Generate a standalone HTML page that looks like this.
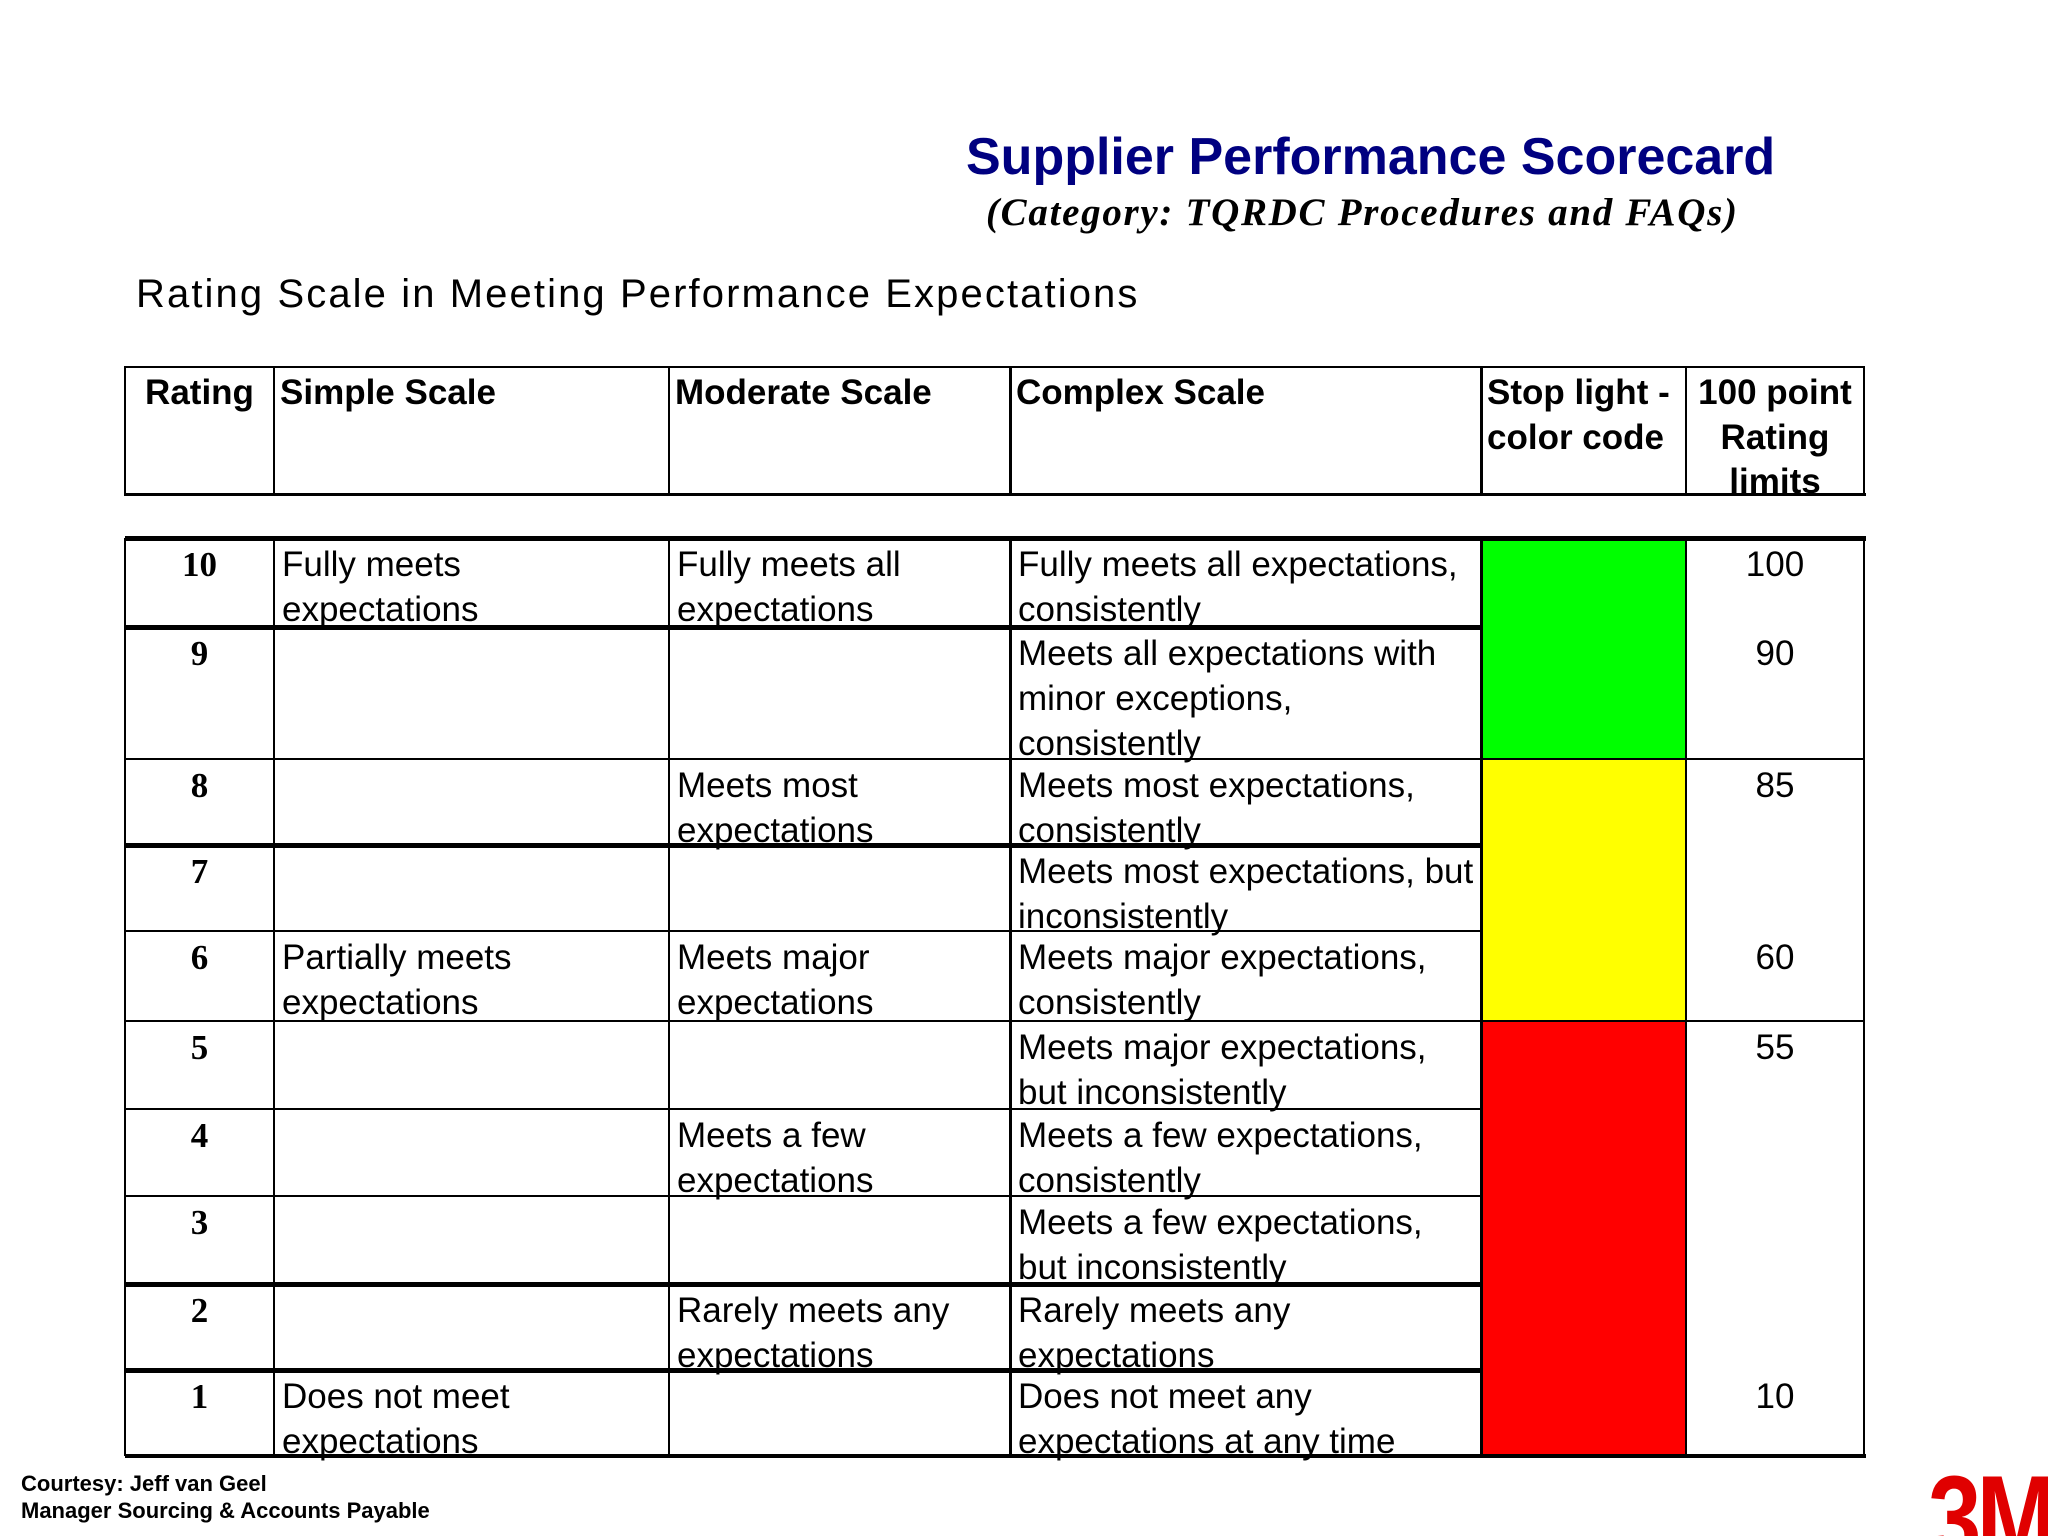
<!DOCTYPE html>
<html><head><meta charset="utf-8">
<style>
html,body{margin:0;padding:0;background:#fff;}
#page{position:relative;width:2048px;height:1536px;overflow:hidden;background:#fff;font-family:"Liberation Sans",Arial,sans-serif;color:#000;}
.abs{position:absolute;}
.ln{position:absolute;background:#000;}
.cell{position:absolute;font-size:35px;line-height:45px;white-space:nowrap;}
.hdr{position:absolute;font-size:35px;line-height:44.5px;font-weight:bold;white-space:nowrap;}
</style></head>
<body>
<div id="page">
  <div class="abs" style="left:966px;top:124px;font-size:52px;font-weight:bold;color:#000080;line-height:66px;white-space:nowrap;">Supplier Performance Scorecard</div>
  <div class="abs" style="left:986px;top:188px;font-family:'Liberation Serif',serif;font-style:italic;font-weight:bold;font-size:39px;letter-spacing:1.7px;line-height:50px;white-space:nowrap;">(Category: TQRDC Procedures and FAQs)</div>
  <div class="abs" style="left:136px;top:268px;font-size:40px;letter-spacing:2.1px;line-height:52px;white-space:nowrap;">Rating Scale in Meeting Performance Expectations</div>
  <div class="abs" style="left:21px;top:1470px;font-size:22px;font-weight:bold;line-height:27px;">Courtesy: Jeff van Geel<br>Manager Sourcing &amp; Accounts Payable</div>
  <div class="abs" style="left:1928px;top:1458px;font-size:120px;font-weight:bold;color:#e00000;line-height:120px;letter-spacing:-6px;transform:scaleX(0.8);transform-origin:left;">3M</div>
</div>
<script>
const page=document.getElementById('page');
const colX=[125,274,669,1010,1481,1686,1864];
const rowY=[538,627,759,845,931,1021,1109,1196,1284,1370,1456];
const ratings=['10','9','8','7','6','5','4','3','2','1'];
const simple=['Fully meets|expectations','','','','Partially meets|expectations','','','','','Does not meet|expectations'];
const moderate=['Fully meets all|expectations','','Meets most|expectations','','Meets major|expectations','','Meets a few|expectations','','Rarely meets any|expectations',''];
const complex=['Fully meets all expectations,|consistently','Meets all expectations with|minor exceptions,|consistently','Meets most expectations,|consistently','Meets most expectations, but|inconsistently','Meets major expectations,|consistently','Meets major expectations,|but inconsistently','Meets a few expectations,|consistently','Meets a few expectations,|but inconsistently','Rarely meets any|expectations','Does not meet any|expectations at any time'];
const limits=['100','90','85','','60','55','','','','10'];
const thick=[true,false,true,false,false,false,false,true,true,false];
const bands=[[0,2,'#00ff00'],[2,5,'#ffff00'],[5,10,'#ff0000']];
const headers=['Rating','Simple Scale','Moderate Scale','Complex Scale','Stop light -|color code','100 point|Rating|limits'];

function line(x,y,w,h,name){
  const d=document.createElement('div');d.className='ln';
  d.style.left=x+'px';d.style.top=y+'px';d.style.width=w+'px';d.style.height=h+'px';
  
  
  page.appendChild(d);
}
const hT=366,hB=496;
line(colX[0],hT,colX[6]-colX[0],2,'header-top-border');
line(colX[0],hB-3,colX[6]-colX[0]+2,3,'header-bottom-border');
colX.forEach((x,i)=>line(x-1,hT,(i==3||i==4)?3:2,hB-hT,'header-col-line'));
headers.forEach((h,i)=>{
  const d=document.createElement('div');d.className='hdr';
  
  
  d.style.top=(hT+5)+'px';
  if(i==0||i==5){d.style.left=colX[i]+'px';d.style.width=(colX[i+1]-colX[i])+'px';d.style.textAlign='center';}
  else d.style.left=(colX[i]+6)+'px';
  d.innerHTML=h.split('|').join('<br>');
  page.appendChild(d);
});
bands.forEach(b=>{
  const d=document.createElement('div');d.className='abs';
  d.style.left=colX[4]+'px';d.style.top=rowY[b[0]]+'px';d.style.width=(colX[5]-colX[4])+'px';d.style.height=(rowY[b[1]]-rowY[b[0]])+'px';d.style.background=b[2];
  
  
  page.appendChild(d);
});
line(colX[0],rowY[0]-2,colX[6]-colX[0]+2,5,'body-top-border');
line(colX[0],rowY[10]-2,colX[6]-colX[0]+2,4,'body-bottom-border');
for(let r=1;r<10;r++){
  const full=(r==2||r==5);
  const right=full?colX[6]:colX[4];
  line(colX[0],rowY[r]-(thick[r-1]?2:1),right-colX[0],thick[r-1]?5:2,'row-divider');
}
colX.forEach((x,i)=>line(x-1,rowY[0],(i==3||i==4)?3:2,rowY[10]-rowY[0],'body-col-line'));
function cell(text,x,y,w,opts,name){
  if(!text)return;
  const d=document.createElement('div');d.className='cell';
  d.style.left=x+'px';d.style.top=y+'px';
  if(w){d.style.width=w+'px';d.style.textAlign='center';}
  if(opts)Object.assign(d.style,opts);
  
  
  d.innerHTML=text.split('|').join('<br>');
  page.appendChild(d);
}
for(let r=0;r<10;r++){
  const y=rowY[r]+4;
  cell(ratings[r],colX[0],y,colX[1]-colX[0],{fontFamily:'"Liberation Serif",serif',fontWeight:'bold'},'rating-value');
  cell(simple[r],colX[1]+8,y,0,null,'simple-scale-text');
  cell(moderate[r],colX[2]+8,y,0,null,'moderate-scale-text');
  cell(complex[r],colX[3]+8,y,0,null,'complex-scale-text');
  cell(limits[r],colX[5],y,colX[6]-colX[5],null,'rating-limit');
}
</script>
</body></html>
